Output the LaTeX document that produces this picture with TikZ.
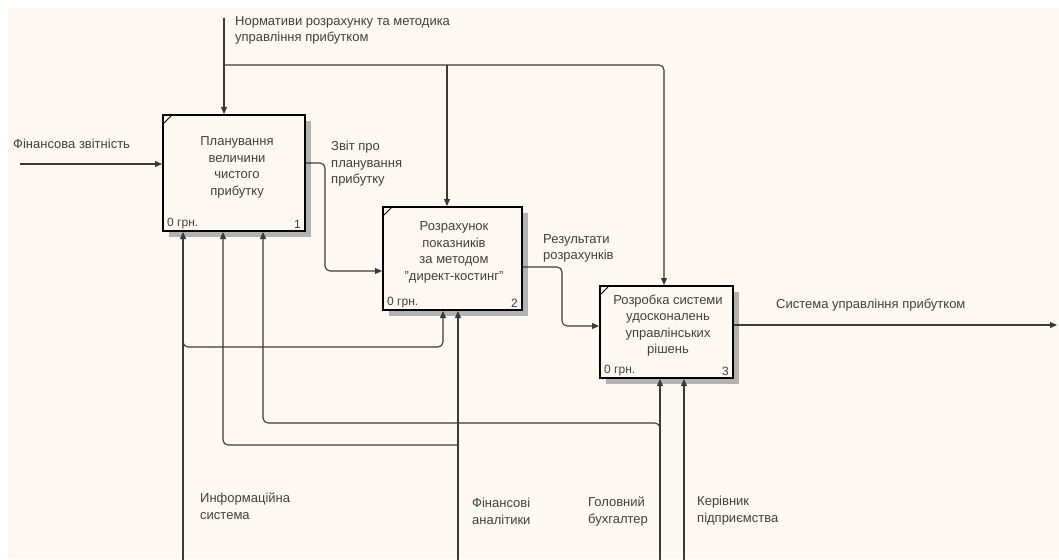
\documentclass[tikz,border=0pt]{standalone}
\usepackage{fontspec}
\setmainfont{Liberation Sans}
\usetikzlibrary{arrows.meta,calc,shadows}
\definecolor{bg}{HTML}{FDF9F2}
\definecolor{ln}{HTML}{3A3A3A}
\definecolor{sh}{HTML}{B2B2B2}
\definecolor{txt}{HTML}{404040}
\begin{document}
\begin{tikzpicture}[x=1pt,y=-1pt,
  font=\fontsize{13}{16.5}\selectfont,
  box/.style={draw=black, line width=2pt, fill=bg, inner sep=0pt,
    drop shadow={shadow xshift=6pt, shadow yshift=-6pt, fill=sh, opacity=1}},
  conn/.style={draw=ln, line width=1.1pt, rounded corners=5pt},
  arr/.style={-{Triangle[length=7pt,width=6pt]}},
  lbl/.style={anchor=north west, align=left, inner sep=0pt, text=txt},
  btxt/.style={align=center, inner sep=0pt, text=txt},
  small/.style={inner sep=0pt, text=txt, font=\fontsize{12}{14}\selectfont}
]
\useasboundingbox (0,0) rectangle (1059,559);
\fill[white] (0,0) rectangle (1059,559);
\fill[bg] (8,8) rectangle (1059,559);

% boxes
\node[box, minimum width=142pt, minimum height=116pt] (b1) at (234,173) {};
\node[box, minimum width=139pt, minimum height=103pt] (b2) at (452.5,258.5) {};
\node[box, minimum width=133pt, minimum height=92pt] (b3) at (666.5,332) {};

\node[btxt] (b1t) at (237,167.5) {Планування\\величини\\чистого\\прибутку};
\node[btxt] (b2t) at (454,252.5) {Розрахунок\\показників\\за методом\\\char34 директ-костинг\char34};
\node[btxt] (b3t) at (668,325.5) {Розробка системи\\удосконалень\\управлінських\\рішень};

\foreach \b/\n in {b1/1,b2/2,b3/3}{
  \draw[line width=0.9pt] ($(\b.north west)+(2,9)$) -- ($(\b.north west)+(9,2)$);
  \node[small, anchor=south west] (\b g) at ($(\b.south west)+(5,-3)$) {0 грн.};
  \node[small, anchor=south east] (\b n) at ($(\b.south east)+(-5,-3)$) {\n};
}

% control arrows
\coordinate (ctop) at (224,18);
\coordinate (cbr) at (224,65);
\coordinate (cb2) at (447,65);
\coordinate (cb3) at (664,65);
\draw[conn,arr] (ctop) -- (ctop |- b1.north);
\draw[conn,arr] (cbr) -- (cb3) -- (cb3 |- b3.north);
\draw[conn,arr] (cb2) -- (cb2 |- b2.north);
\node[lbl] (lctl) at (235,16) {Нормативи розрахунку та методика\\управління прибутком};

% input
\coordinate (cin) at (20,164);
\draw[conn,arr] (cin) -- (cin -| b1.west);
\node[lbl] (lin) at (13,139) {Фінансова звітність};

% b1 -> b2
\coordinate (p1) at (325,163);
\coordinate (p2) at (325,271);
\draw[conn,arr] (p1 -| b1.east) -- (p1) -- (p2) -- (p2 -| b2.west);
\node[lbl] (l12) at (331,141) {Звіт про\\планування\\прибутку};

% b2 -> b3
\coordinate (q1) at (562,267);
\coordinate (q2) at (562,326);
\draw[conn,arr] (q1 -| b2.east) -- (q1) -- (q2) -- (q2 -| b3.west);
\node[lbl] (l23) at (543,234) {Результати\\розрахунків};

% output
\coordinate (cout) at (1057,325);
\draw[conn,arr] (cout -| b3.east) -- (cout);
\node[lbl] (lout) at (776,299) {Система управління прибутком};

% mechanisms
\coordinate (m1) at (183,560);
\coordinate (m1a) at (183,335);
\coordinate (m1b) at (443,347);
\draw[conn,arr] (m1) -- (m1 |- b1.south);
\draw[conn,arr] (m1a) |- (m1b) -- (m1b |- b2.south);

\coordinate (m2) at (458,560);
\coordinate (m2a) at (458,445);
\coordinate (m2b) at (223,445);
\draw[conn,arr] (m2) -- (m2 |- b2.south);
\draw[conn,arr] (m2a) -- (m2b) -- (m2b |- b1.south);

\coordinate (m3) at (660,560);
\coordinate (m3a) at (660,431);
\coordinate (m3b) at (263,423);
\draw[conn,arr] (m3) -- (m3 |- b3.south);
\draw[conn,arr] (m3a) |- (m3b) -- (m3b |- b1.south);

\coordinate (m4) at (684,560);
\draw[conn,arr] (m4) -- (m4 |- b3.south);

\node[lbl] (lm1) at (200,493) {Информаційна\\система};
\node[lbl] (lm2) at (472,498) {Фінансові\\аналітики};
\node[lbl] (lm3) at (588,497) {Головний\\бухгалтер};
\node[lbl] (lm4) at (697,496) {Керівник\\підприємства};
\end{tikzpicture}
\end{document}
